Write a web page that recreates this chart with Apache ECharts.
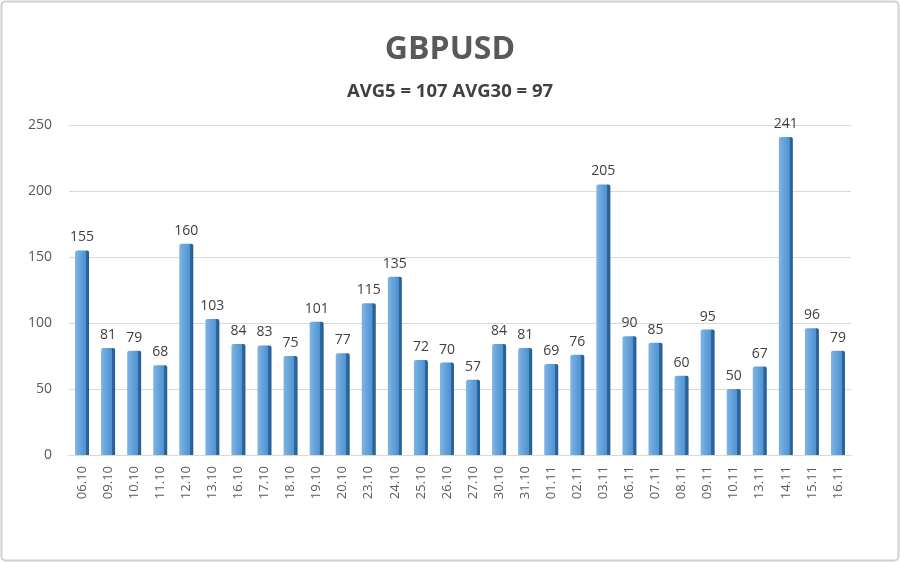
<!DOCTYPE html>
<html><head><meta charset="utf-8">
<script src="https://cdn.jsdelivr.net/npm/echarts@6/dist/echarts.min.js"></script>
<style>html,body{margin:0;padding:0;background:#fff}#c{width:900px;height:562px}</style>
</head><body><div id="c"></div>
<script>
const titleText = 'GBPUSD';
const subtitleText = 'AVG5 = 107 AVG30 = 97';
const categories = ['06.10','09.10','10.10','11.10','12.10','13.10','16.10','17.10','18.10','19.10','20.10','23.10','24.10','25.10','26.10','27.10','30.10','31.10','01.11','02.11','03.11','06.11','07.11','08.11','09.11','10.11','13.11','14.11','15.11','16.11'];
const values = [155,81,79,68,160,103,84,83,75,101,77,115,135,72,70,57,84,81,69,76,205,90,85,60,95,50,67,241,96,79];
const yTicks = [0,50,100,150,200,250];

const chart = echarts.init(document.getElementById('c'), null, {renderer:'canvas'});
const font = '"Open Sans", "Noto Sans", sans-serif';
chart.setOption({
  backgroundColor:'#ffffff',
  animation:false,
  title:[
    {text:titleText,left:'center',top:29,textStyle:{fontFamily:font,fontSize:32,fontWeight:'bold',color:'#595959'}},
    {text:subtitleText,left:'center',top:77,textStyle:{fontFamily:font,fontSize:18.5,fontWeight:'bold',color:'#404040'}}
  ],
  graphic:[{type:'rect',shape:{x:1.5,y:1.5,width:897,height:559,r:4},style:{fill:null,stroke:'#d0d0d0',lineWidth:2},silent:true}],
  grid:{left:69,right:49,top:125,bottom:107,containLabel:false},
  xAxis:{type:'category',data:categories,
    axisLine:{show:true,lineStyle:{color:'#d9d9d9',width:1}},
    axisTick:{show:false},
    axisLabel:{rotate:90,margin:11,fontFamily:font,fontSize:13,color:'#595959'}},
  yAxis:{type:'value',min:yTicks[0],max:yTicks[yTicks.length-1],interval:50,
    axisLine:{show:false},axisTick:{show:false},
    splitLine:{lineStyle:{color:'#d9d9d9',width:1}},
    axisLabel:{margin:17,fontFamily:font,fontSize:14,color:'#595959'}},
  series:[{type:'bar',data:values,barWidth:14,
    itemStyle:{color:new echarts.graphic.LinearGradient(0,0,1,0,[
      {offset:0,color:'#80b5e4'},{offset:0.35,color:'#67a4dc'},{offset:0.76,color:'#4f92d0'},
      {offset:0.77,color:'#2c6aa3'},{offset:1,color:'#275c8c'}]),
      borderRadius:[2,2,0,0]},
    label:{show:true,position:'top',distance:6,fontFamily:font,fontSize:14,color:'#404040'}}]
});
</script></body></html>
